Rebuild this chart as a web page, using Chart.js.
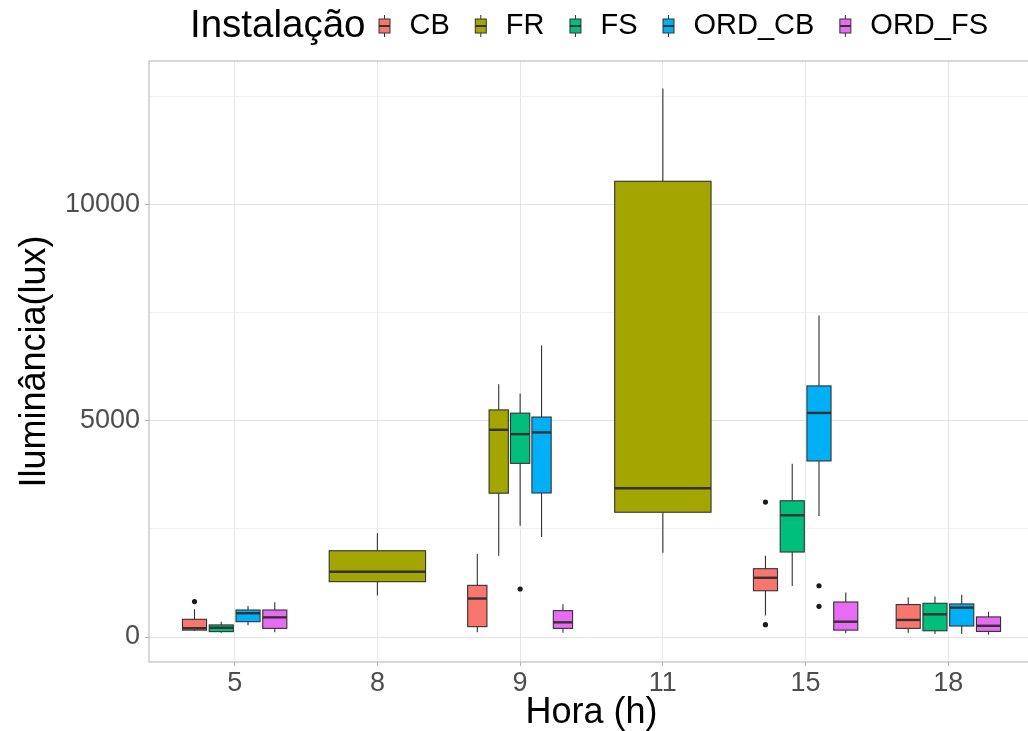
<!DOCTYPE html>
<html>
<head>
<meta charset="utf-8">
<script src="https://cdn.jsdelivr.net/npm/chart.js@4.4.1/dist/chart.umd.min.js"></script>
<style>
html, body { margin: 0; padding: 0; overflow: hidden; background: #fff; }
#wrap { width: 1028px; height: 731px; overflow: hidden; }
</style>
</head>
<body>
<div id="wrap"><canvas id="boxChart" width="1040" height="731"></canvas></div>
<script>
const hours = ['5', '8', '9', '11', '15', '18'];
const groups = ['CB', 'FR', 'FS', 'ORD_CB', 'ORD_FS'];
const groupColors = ['#F8766D', '#A3A500', '#00BF7D', '#00B0F6', '#E76BF3'];

// [lower whisker, q1, median, q3, upper whisker] for each hour, null = no box
const cbBoxes = [[140, 160, 205, 410, 640], null, [110, 240, 890, 1195, 1920], null, [495, 1070, 1370, 1580, 1880], [100, 200, 395, 750, 920]];
const frBoxes = [null, [960, 1280, 1510, 1995, 2400], [1880, 3325, 4790, 5250, 5845], [1950, 2885, 3440, 10535, 12680], null, null];
const fsBoxes = [[100, 125, 215, 280, 355], null, [2570, 4015, 4690, 5175, 5630], null, [1180, 1965, 2815, 3150, 4005], [70, 145, 525, 780, 935]];
const ordCbBoxes = [[270, 355, 550, 625, 720], null, [2310, 3330, 4730, 5085, 6740], null, [2800, 4070, 5180, 5805, 7430], [70, 255, 680, 765, 975]];
const ordFsBoxes = [[110, 200, 455, 625, 805], null, [100, 200, 340, 610, 760], null, [85, 160, 355, 810, 1030], [55, 130, 260, 465, 585]];

// outlier points for each hour
const cbOutliers = [[820], [], [], [], [3120, 285], []];
const frOutliers = [[], [], [], [], [], []];
const fsOutliers = [[], [], [1110], [], [], []];
const ordCbOutliers = [[], [], [], [], [1185, 710], []];
const ordFsOutliers = [[], [], [], [], [], []];

const yTicks = [0, 2500, 5000, 7500, 10000, 12500];

const boxes = [cbBoxes, frBoxes, fsBoxes, ordCbBoxes, ordFsBoxes];
const outliers = [cbOutliers, frOutliers, fsOutliers, ordCbOutliers, ordFsOutliers];
const family = '"Liberation Sans", Arial, sans-serif';

// ggplot-like dodge: boxes present at an hour share 0.75 of the slot
function dodge(h, g) {
    const present = groups.map((_, j) => j).filter(j => boxes[j][h]);
    const slot = 0.75 / present.length;
    const k = present.indexOf(g);
    return { center: h + 1 - 0.375 + slot * (k + 0.5), half: slot * 0.9 / 2 };
}

const outlierSets = groups.map((g, j) => ({
    label: g,
    data: outliers[j].flatMap((vals, h) => vals.map(v => ({ x: dodge(h, j).center, y: v }))),
    pointRadius: 2.6,
    pointHoverRadius: 2.6,
    backgroundColor: '#1a1a1a',
    borderWidth: 0
}));

const boxPlot = {
    id: 'boxPlot',
    beforeDatasetsDraw(chart) {
        const { ctx, scales: { x, y } } = chart;
        ctx.save();
        boxes.forEach((series, j) => {
            series.forEach((b, h) => {
                if (!b) return;
                const d = dodge(h, j);
                const xl = x.getPixelForValue(d.center - d.half);
                const xr = x.getPixelForValue(d.center + d.half);
                const xc = x.getPixelForValue(d.center);
                const [lo, q1, med, q3, hi] = b.map(v => y.getPixelForValue(v));
                ctx.strokeStyle = '#333333';
                ctx.lineWidth = 1.1;
                ctx.beginPath();
                ctx.moveTo(xc, hi); ctx.lineTo(xc, q3);
                ctx.moveTo(xc, q1); ctx.lineTo(xc, lo);
                ctx.stroke();
                ctx.fillStyle = groupColors[j];
                ctx.fillRect(xl, q3, xr - xl, q1 - q3);
                ctx.strokeRect(xl, q3, xr - xl, q1 - q3);
                ctx.lineWidth = 2.4;
                ctx.beginPath();
                ctx.moveTo(xl, med); ctx.lineTo(xr, med);
                ctx.stroke();
            });
        });
        ctx.restore();
    },
    afterDatasetsDraw(chart) {
        const { ctx, chartArea: a } = chart;
        ctx.save();
        ctx.strokeStyle = '#bfbfbf';
        ctx.lineWidth = 1.2;
        ctx.strokeRect(a.left, a.top, a.right - a.left, a.bottom - a.top);
        ctx.restore();
    }
};

function drawKey(ctx, cx, cy, color) {
    ctx.strokeStyle = '#333333';
    ctx.lineWidth = 1;
    ctx.beginPath();
    ctx.moveTo(cx, cy - 11); ctx.lineTo(cx, cy + 11);
    ctx.stroke();
    ctx.fillStyle = color;
    ctx.fillRect(cx - 5.5, cy - 7, 11, 14);
    ctx.strokeRect(cx - 5.5, cy - 7, 11, 14);
    ctx.lineWidth = 2;
    ctx.beginPath();
    ctx.moveTo(cx - 5.5, cy); ctx.lineTo(cx + 5.5, cy);
    ctx.stroke();
}

const legendRow = {
    id: 'legendRow',
    afterDraw(chart) {
        const ctx = chart.ctx;
        const cy = 26;
        ctx.save();
        ctx.textBaseline = 'middle';
        ctx.font = '38.5px ' + family;
        ctx.fillStyle = '#000';
        ctx.fillText('Instalação', 190, cy);
        let cx = 190 + ctx.measureText('Instalação').width + 19;
        ctx.font = '29px ' + family;
        groups.forEach((g, j) => {
            drawKey(ctx, cx, cy, groupColors[j]);
            ctx.fillStyle = '#000';
            ctx.fillText(g, cx + 25, cy);
            cx += 25 + ctx.measureText(g).width + 31;
        });
        ctx.restore();
    }
};

new Chart(document.getElementById('boxChart'), {
    type: 'scatter',
    data: { datasets: outlierSets },
    options: {
        responsive: false,
        animation: false,
        layout: { padding: { top: 61, right: 6, left: 0, bottom: 0 } },
        plugins: { legend: { display: false }, tooltip: { enabled: false } },
        scales: {
            x: {
                type: 'linear',
                min: 0.4,
                max: 6.6,
                afterBuildTicks: s => { s.ticks = hours.map((_, i) => ({ value: i + 1 })); },
                afterFit: s => { s.height = 69; },
                ticks: {
                    callback: v => hours[v - 1],
                    color: '#4d4d4d',
                    font: { size: 27, family: family },
                    padding: 1,
                    maxRotation: 0,
                    autoSkip: false
                },
                grid: { color: '#e6e6e6', lineWidth: 1, tickColor: '#b3b3b3', tickLength: 4 },
                border: { display: false },
                title: {
                    display: true,
                    text: 'Hora (h)',
                    color: '#000',
                    font: { size: 36, family: family, lineHeight: 1.0 },
                    padding: { top: 0, bottom: 0 }
                }
            },
            y: {
                min: -577,
                max: 13315,
                afterBuildTicks: s => { s.ticks = yTicks.map(v => ({ value: v })); },
                afterFit: s => { s.width = 149; },
                ticks: {
                    callback: v => (v % 5000 === 0 ? String(v) : ''),
                    color: '#4d4d4d',
                    font: { size: 27, family: family },
                    padding: 5
                },
                grid: {
                    color: c => (c.tick && c.tick.value % 5000 === 0 ? '#e3e3e3' : '#f1f1f1'),
                    lineWidth: 1,
                    tickColor: c => (c.tick && c.tick.value % 5000 === 0 ? '#b3b3b3' : 'rgba(0,0,0,0)'),
                    tickLength: 4
                },
                border: { display: false },
                title: {
                    display: true,
                    text: 'Iluminância(lux)',
                    color: '#000',
                    font: { size: 36, family: family, lineHeight: 1.2 },
                    padding: { top: 13, bottom: 0 }
                }
            }
        }
    },
    plugins: [boxPlot, legendRow]
});
</script>
</body>
</html>
